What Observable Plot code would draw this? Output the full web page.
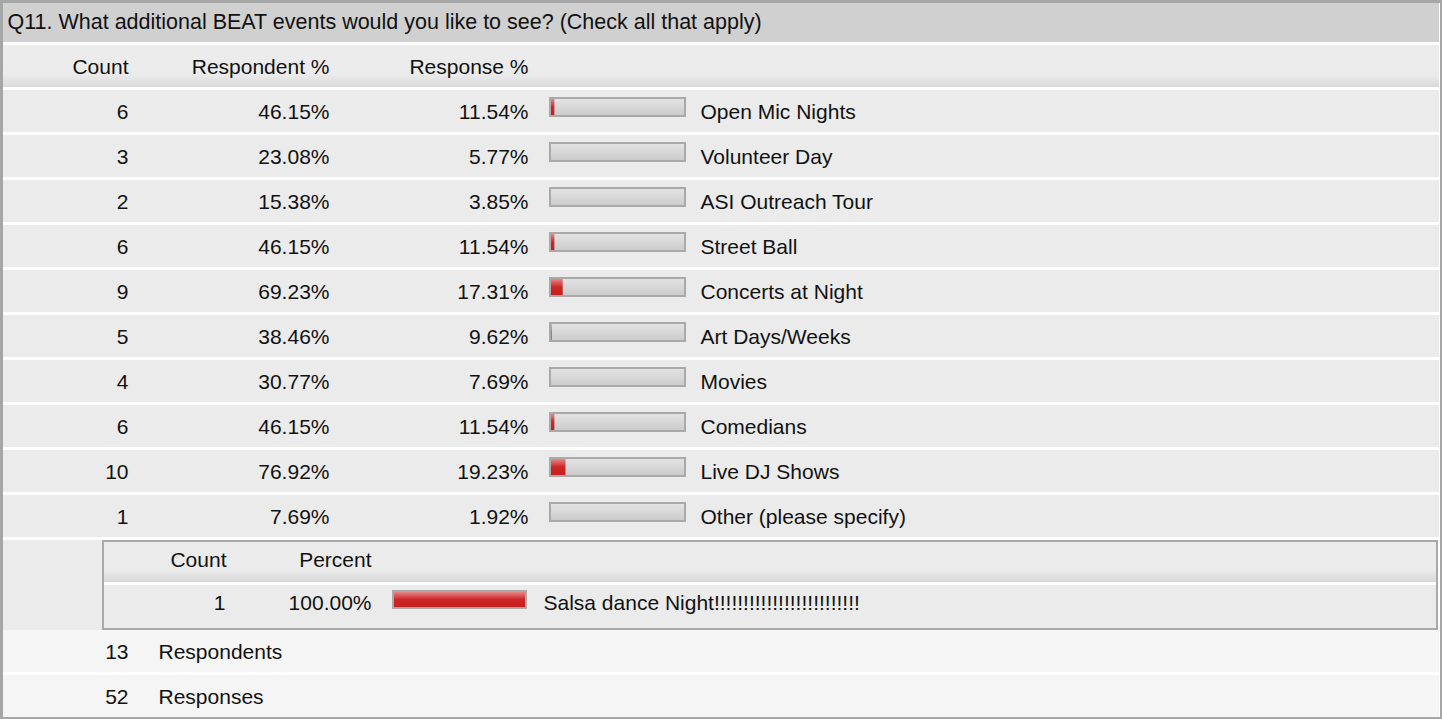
<!DOCTYPE html>
<html><head><meta charset="utf-8">
<script src="https://cdn.jsdelivr.net/npm/d3@7"></script>
<script src="https://cdn.jsdelivr.net/npm/@observablehq/plot@0.6"></script>
<style>html,body{margin:0;padding:0;background:#fff} svg{display:block}</style>
</head><body><div id="chart"></div>
<script>
// ---- data ----
const title = "Q11. What additional BEAT events would you like to see? (Check all that apply)";
const headers = ["Count", "Respondent %", "Response %"];
const categories = ["Open Mic Nights", "Volunteer Day", "ASI Outreach Tour", "Street Ball", "Concerts at Night", "Art Days/Weeks", "Movies", "Comedians", "Live DJ Shows", "Other (please specify)"];
const counts = [6, 3, 2, 6, 9, 5, 4, 6, 10, 1];
const respondentPct = [46.15, 23.08, 15.38, 46.15, 69.23, 38.46, 30.77, 46.15, 76.92, 7.69];
const responsePct = [11.54, 5.77, 3.85, 11.54, 17.31, 9.62, 7.69, 11.54, 19.23, 1.92];
const otherHeaders = ["Count", "Percent"];
const otherTexts = ["Salsa dance Night!!!!!!!!!!!!!!!!!!!!!!!!!"];
const otherCounts = [1];
const otherPct = [100.00];
const totalLabels = ["Respondents", "Responses"];
const totalValues = [13, 52];

// ---- layout ----
const W = 1442, H = 719;
const rowKeys = ["title", "header", ...categories, "subheader", "subrow", ...totalLabels];
const FS = 21;
const headerX = [128, 329, 528];
const subHeaderX = [226, 371];
const BAR = {x1: 550, x2: 685, labelX: 700};
const SUBBAR = {x1: 393, x2: 526, labelX: 543};

const rows = categories.map((c, i) => ({key: c, label: c, count: counts[i], rp: respondentPct[i], sp: responsePct[i]}));
const subRows = otherTexts.map((t, i) => ({key: "subrow", label: t, count: otherCounts[i], pct: otherPct[i]}));
const totals = totalLabels.map((l, i) => ({key: l, label: l, value: totalValues[i]}));

// scale used by the red fill inside the bar gauges
const fillScale = Plot.scale({x: {domain: [9.2, 100], range: [0, 131], clamp: true}});
const fmt = v => v.toFixed(2) + "%";

const txt = {fontSize: FS, fill: "#111", dy: -1};
const subTxt = {...txt, dy: -5};

const svg = Plot.plot({
  width: W, height: H,
  margin: 0,
  style: {fontFamily: "'Liberation Sans', Arial, sans-serif", background: "#fff"},
  x: {type: "linear", domain: [0, W], range: [0, W], axis: null},
  y: {type: "band", domain: rowKeys, range: [0, 720], padding: 0, round: false, axis: null},
  marks: [
    // row backgrounds
    Plot.barX([{key: "title"}], {x1: 2, x2: 1439, y: "key", fill: "#d0d0d0", insetBottom: 3}),
    Plot.barX([{key: "header"}], {x1: 2, x2: 1439, y: "key", fill: "url(#hdrGrad)", insetBottom: 3}),
    Plot.barX(rows, {x1: 2, x2: 1439, y: "key", fill: "#ebebeb", insetBottom: 3}),
    Plot.barX(["subheader", "subrow"], {x1: 2, x2: 102, y: d => d, fill: "#ebebeb"}),
    Plot.barX(totals, {x1: 2, x2: 1439, y: "key", fill: "#f5f5f5", insetBottom: 3}),
    // sub table box
    Plot.barX(["subheader", "subrow"], {x1: 102, x2: 1438, y: d => d, fill: "#a9a9a9"}),
    Plot.barX(["subheader"], {x1: 104, x2: 1436, y: d => d, fill: "#fff", insetTop: 2}),
    Plot.barX(["subheader"], {x1: 104, x2: 1436, y: d => d, fill: "url(#hdrGrad)", insetTop: 2, insetBottom: 3}),
    Plot.barX(["subrow"], {x1: 104, x2: 1436, y: d => d, fill: "#ebebeb", insetBottom: 2}),

    // main gauges
    Plot.barX(rows, {x1: BAR.x1, x2: BAR.x2, y: "key", fill: "url(#barGrad)", stroke: "#a9a9a9", strokeWidth: 2, insetTop: 8, insetBottom: 19}),
    Plot.barX(rows, {x1: BAR.x1 + 1, x2: d => BAR.x1 + 1 + fillScale.apply(d.sp), y: "key", fill: "url(#redGrad)", insetTop: 9, insetBottom: 20}),
    // sub gauge
    Plot.barX(subRows, {x1: SUBBAR.x1, x2: SUBBAR.x2, y: "key", fill: "url(#barGrad)", stroke: "#a9a9a9", strokeWidth: 2, insetTop: 6, insetBottom: 22}),
    Plot.barX(subRows, {x1: SUBBAR.x1 + 1, x2: d => SUBBAR.x1 + 1 + fillScale.apply(d.pct), y: "key", fill: "url(#redGrad)", insetTop: 7, insetBottom: 23}),

    // texts
    Plot.text([{key: "title", t: title}], {x: 7, y: "key", text: "t", textAnchor: "start", ...txt, fontSize: 21.5}),
    Plot.text(headers, {x: (d, i) => headerX[i], y: () => "header", text: d => d, textAnchor: "end", ...txt}),
    Plot.text(rows, {x: headerX[0], y: "key", text: d => String(d.count), textAnchor: "end", ...txt}),
    Plot.text(rows, {x: headerX[1], y: "key", text: d => fmt(d.rp), textAnchor: "end", ...txt}),
    Plot.text(rows, {x: headerX[2], y: "key", text: d => fmt(d.sp), textAnchor: "end", ...txt}),
    Plot.text(rows, {x: BAR.labelX, y: "key", text: "label", textAnchor: "start", ...txt}),
    Plot.text(otherHeaders, {x: (d, i) => subHeaderX[i], y: () => "subheader", text: d => d, textAnchor: "end", ...txt, dy: -3}),
    Plot.text(subRows, {x: subHeaderX[0] - 1, y: "key", text: d => String(d.count), textAnchor: "end", ...subTxt}),
    Plot.text(subRows, {x: subHeaderX[1], y: "key", text: d => fmt(d.pct), textAnchor: "end", ...subTxt}),
    Plot.text(subRows, {x: SUBBAR.labelX, y: "key", text: "label", textAnchor: "start", ...subTxt}),
    Plot.text(totals, {x: headerX[0], y: "key", text: d => String(d.value), textAnchor: "end", ...txt}),
    Plot.text(totals, {x: 158, y: "key", text: "label", textAnchor: "start", ...txt}),

    // outer border
    Plot.frame({stroke: "#a6a6a6", strokeWidth: 5})
  ]
});

d3.select(svg).insert("defs", ":first-child").html(`
  <linearGradient id="hdrGrad" x1="0" y1="0" x2="0" y2="1">
    <stop offset="0" stop-color="#ececec"/><stop offset="0.7" stop-color="#ebebeb"/><stop offset="1" stop-color="#d9d9d9"/>
  </linearGradient>
  <linearGradient id="barGrad" x1="0" y1="0" x2="0" y2="1">
    <stop offset="0" stop-color="#e4e4e4"/><stop offset="1" stop-color="#cbcbcb"/>
  </linearGradient>
  <linearGradient id="redGrad" x1="0" y1="0" x2="0" y2="1">
    <stop offset="0" stop-color="#e78585"/><stop offset="0.5" stop-color="#cd2626"/><stop offset="1" stop-color="#c82020"/>
  </linearGradient>`);

document.getElementById("chart").appendChild(svg);
</script>
</body></html>
